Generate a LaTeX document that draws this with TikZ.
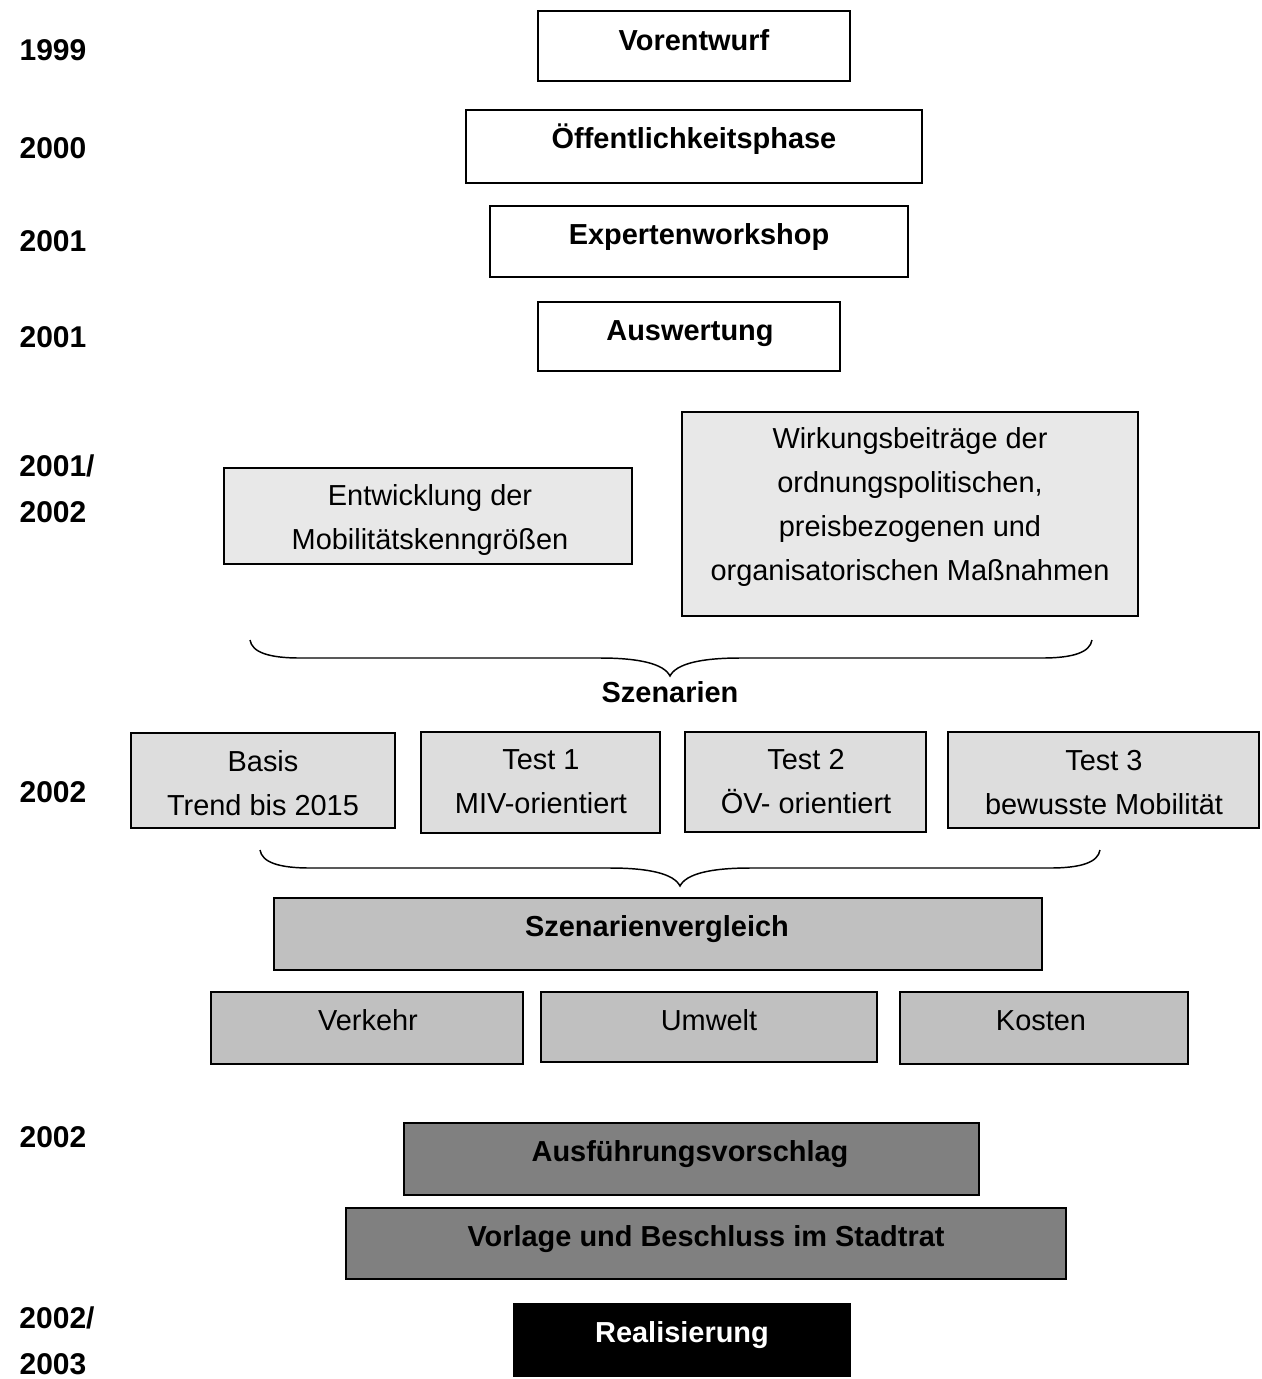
\documentclass[tikz,border=0pt]{standalone}
\usepackage{fontspec}
\setmainfont{Liberation Sans}
\usetikzlibrary{fit}
\definecolor{grayA}{HTML}{E8E8E8}
\definecolor{grayB}{HTML}{DDDDDD}
\definecolor{grayC}{HTML}{C0C0C0}
\definecolor{grayD}{HTML}{808080}
\begin{document}
\begin{tikzpicture}[x=0.75pt,y=-0.75pt,
  box/.style={draw=black,line width=0.9pt,inner sep=0pt,fill=white},
  txt/.style={inner sep=0pt,align=center,font=\fontsize{21.7}{33}\selectfont},
  btxt/.style={inner sep=0pt,align=center,font=\fontsize{21.7}{33}\selectfont\bfseries},
  oneline/.style={text height=15.6pt,text depth=0pt},
  year/.style={inner sep=0pt,font=\fontsize{22.5}{27}\selectfont\bfseries},
  bracepath/.style={draw=black,line width=1.1pt}]
\useasboundingbox (0,0) rectangle (1262,1379);
% years
\node[year] (y1) at (53,50) {1999};
\node[year] (y2) at (53,148) {2000};
\node[year] (y3) at (53,241) {2001};
\node[year] (y4) at (53,337) {2001};
\node[year] (y5) at (57,466) {2001/};
\node[year] (y6) at (53,512) {2002};
\node[year] (y7) at (53,792) {2002};
\node[year] (y8) at (53,1137) {2002};
\node[year] (y9) at (57,1318) {2002/};
\node[year] (y10) at (53,1364) {2003};
% top boxes
\node[box,fit={(538,11) (850,81)}] (vor) {};
\node[btxt,oneline] (tvor) at (694,40) {Vorentwurf};
\node[box,fit={(466,110) (922,183)}] (oef) {};
\node[btxt,oneline] (toef) at (694,138) {Öffentlichkeitsphase};
\node[box,fit={(490,206) (908,277)}] (exp) {};
\node[btxt,oneline] (texp) at (699,234) {Expertenworkshop};
\node[box,fit={(538,302) (840,371)}] (aus) {};
\node[btxt,oneline] (taus) at (690,330) {Auswertung};
% light gray boxes
\node[box,fill=grayA,fit={(224,468) (632,564)}] (ent) {};
\node[txt] (tent) at (430,520) {Entwicklung der\\Mobilitätskenngrößen};
\node[box,fill=grayA,fit={(682,412) (1138,616)}] (wir) {};
\node[txt] (twir) at (910,507) {Wirkungsbeiträge der\\ordnungspolitischen,\\preisbezogenen und\\organisatorischen Maßnahmen};
% brace 1
\coordinate (b1l) at (250,640);
\coordinate (b1t) at (670,676);
\coordinate (b1r) at (1092,640);
\draw[bracepath] (b1l) .. controls (252,652) and (268,658) .. (300,658) -- (600,658)
  .. controls (640,658) and (664,664) .. (b1t)
  .. controls (676,664) and (700,658) .. (740,658) -- (1042,658)
  .. controls (1074,658) and (1090,652) .. (b1r);
\node[btxt,oneline] (tsz) at (670,692) {Szenarien};
% scenario boxes
\node[box,fill=grayB,fit={(131,733) (395,828)}] (bas) {};
\node[txt] (tbas) at (263,783) {Basis\\Trend bis 2015};
\node[box,fill=grayB,fit={(421,732) (660,833)}] (t1) {};
\node[txt] (tt1) at (541,782) {Test 1\\MIV-orientiert};
\node[box,fill=grayB,fit={(685,732) (926,832)}] (t2) {};
\node[txt] (tt2) at (806,782) {Test 2\\ÖV- orientiert};
\node[box,fill=grayB,fit={(948,732) (1259,828)}] (t3) {};
\node[txt] (tt3) at (1104,783) {Test 3\\bewusste Mobilität};
% brace 2
\coordinate (b2l) at (260,850);
\coordinate (b2t) at (680,886);
\coordinate (b2r) at (1100,850);
\draw[bracepath] (b2l) .. controls (262,862) and (278,868) .. (310,868) -- (610,868)
  .. controls (650,868) and (674,874) .. (b2t)
  .. controls (686,874) and (710,868) .. (750,868) -- (1050,868)
  .. controls (1082,868) and (1098,862) .. (b2r);
% comparison
\node[box,fill=grayC,fit={(274,898) (1042,970)}] (sv) {};
\node[btxt,oneline] (tsv) at (657,926) {Szenarienvergleich};
\node[box,fill=grayC,fit={(211,992) (523,1064)}] (ver) {};
\node[txt,oneline] (tver) at (368,1020) {Verkehr};
\node[box,fill=grayC,fit={(541,992) (877,1062)}] (umw) {};
\node[txt,oneline] (tumw) at (709,1020) {Umwelt};
\node[box,fill=grayC,fit={(900,992) (1188,1064)}] (kos) {};
\node[txt,oneline] (tkos) at (1041,1020) {Kosten};
% dark boxes
\node[box,fill=grayD,fit={(404,1123) (979,1195)}] (afv) {};
\node[btxt,oneline] (tafv) at (690,1151) {Ausführungsvorschlag};
\node[box,fill=grayD,fit={(346,1208) (1066,1279)}] (vlg) {};
\node[btxt,oneline] (tvlg) at (706,1236) {Vorlage und Beschluss im Stadtrat};
\node[box,fill=black,fit={(514,1304) (850,1376)}] (rea) {};
\node[btxt,oneline,text=white] (trea) at (682,1332) {Realisierung};
\end{tikzpicture}
\end{document}
